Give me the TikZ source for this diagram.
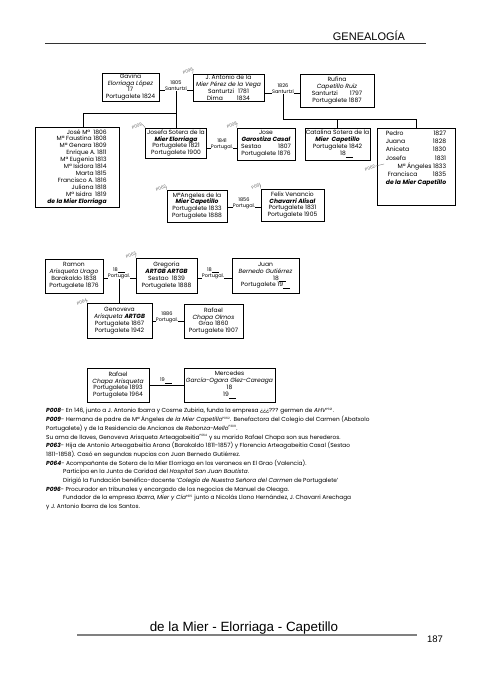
\documentclass[tikz,border=0pt]{standalone}
\usepackage{fontspec}
\setmainfont{Poppins}
\newfontfamily\headfont{Liberation Sans}
\usetikzlibrary{shadows}

\newcommand*{\pagew}{482}
\newcommand*{\pageh}{680}
\newcommand*{\blankyr}{\underline{\hspace{7pt}}}
\newcommand*{\pref}[1]{\textsuperscript{\fontsize{3}{3}\selectfont #1}}

\begin{document}
\begin{tikzpicture}
[
	x=1pt, y=-1pt,
	person/.style={draw, line width=0.6pt, fill=white, align=center, inner sep=0pt,
		font=\fontsize{6}{6.9}\selectfont,
		drop shadow={shadow xshift=0.7pt, shadow yshift=-0.7pt, opacity=0.7, fill=black!70}},
	wedding/.style={fill=white, align=center, inner sep=0.4pt, font=\fontsize{5}{5.8}\selectfont},
	link/.style={line width=0.5pt},
	plabel/.style={font=\fontsize{4.3}{4.5}\selectfont, text=black!60, rotate=20, inner sep=0pt},
	leader/.style={line width=0.3pt, black!60}
]

	\fill[white] (0,0) rectangle (\pagew,\pageh);
	\useasboundingbox (0,0) rectangle (\pagew,\pageh);

	% header
	\node[font=\headfont\fontsize{11}{13}\selectfont, inner sep=0pt] (head) at (369,36) {GENEALOGÍA};
	\draw[line width=0.6pt, black!80] (45,43) -- (426,43);

	% J. Antonio and his two wives
	\node[person, minimum width=57, minimum height=28] (gavina) at (130.5,87) {Gavina\\\textit{Elorriaga López}\\17\\Portugalete 1824};
	\node[person, minimum width=71, minimum height=27] (antonio) at (228.5,87.5) {J. Antonio de la\\\textit{Mier Pérez de la Vega}\\\makebox[30pt][l]{Santurtzi}1781\\\makebox[30pt][l]{Dima}1834};
	\node[person, minimum width=74, minimum height=33] (rufina) at (337,90.5) {Rufina\\\textit{Capetillo Ruiz}\\\makebox[38pt][l]{Santurtzi}1797\\Portugalete 1887};

	\coordinate (w1805) at (176,90);
	\draw[link] (gavina.east |- w1805) -- (antonio.west |- w1805);
	\node[wedding] (m1805) at (176,86) {1805\\Santurtzi};
	\coordinate (w1826) at (283,93);
	\draw[link] (antonio.east |- w1826) -- (rufina.west |- w1826);
	\node[wedding] (m1826) at (283,89) {1826\\Santurtzi};

	% children
	\node[person, minimum width=84, minimum height=80, align=right] (joselist) at (77,167) {José Mª\ \ 1806\\Mª Faustina 1808\\Mª Genara 1809\\Enrique A. 1811\\Mª Eugenia 1813\\Mª Isidora 1814\\Marta 1815\\Francisco A. 1816\\Juliana 1818\\Mª Isidra\ \ 1819\\\textbf{\textit{de la Mier Elorriaga}}};
	\node[person, minimum width=61, minimum height=30] (josefa) at (176,143) {Josefa Sotera de la\\\textbf{\textit{Mier Elorriaga}}\\Portugalete 1821\\Portugalete 1900};
	\node[person, minimum width=58, minimum height=32] (garostiza) at (266,144) {Jose\\\textbf{\textit{Garostiza Casal}}\\\makebox[37pt][l]{Sestao}1807\\Portugalete 1876};
	\node[person, minimum width=65, minimum height=32] (catalina) at (337.5,144) {Catalina Sotera de la\\\textbf{\textit{Mier\ \ Capetillo}}\\Portugalete 1842\\\hspace*{18pt}18\blankyr};
	\node[person, minimum width=78, minimum height=77, font=\fontsize{6.1}{8.2}\selectfont] (pedrolist) at (416,166.5) {\begin{tabular}{@{}l@{\hspace{6pt}}r@{}}Pedro & 1827\\Juana & 1828\\Aniceta & 1830\\Josefa & 1831\\\multicolumn{2}{@{}r@{}}{Mª Ángeles 1833}\\\hspace*{2pt}Francisca & 1835\\\multicolumn{2}{@{}r@{}}{\textbf{\textit{de la Mier Capetillo}}}\\[16pt]\end{tabular}};

	\coordinate (kids1) at (83,113);
	\draw[link] (m1805.south) -- (josefa.north);
	\draw[link] (m1805.south |- kids1) -- (kids1) -- (kids1 |- joselist.north);
	\coordinate (kids2) at (283,119);
	\draw[link] (m1826.south) -- (kids2) -| (catalina.north);
	\draw[link] (kids2) -| (pedrolist.north);

	\draw[link] (josefa.east |- 0,148) -- (garostiza.west |- 0,148);
	\node[wedding] (m1841) at (222,144) {1841\\Portugal.};

	% Mª Angeles and Felix
	\node[person, minimum width=60, minimum height=32] (mangeles) at (197,206) {MªAngeles de la\\\textbf{\textit{Mier Capetillo}}\\Portugalete 1833\\Portugalete 1888};
	\node[person, minimum width=63, minimum height=32] (felix) at (292.5,205) {Felix Venancio\\\textbf{\textit{Chavarri Alisal}}\\Portugalete 1831\\Portugalete 1905};
	\draw[link] (mangeles.east |- 0,207) -- (felix.west |- 0,207);
	\node[wedding] (m1856) at (244,203) {1856\\Portugal.};

	% Arisqueta
	\node[person, minimum width=58, minimum height=34] (ramon) at (74,276) {Ramon\\\textit{Arisqueta Urago}\\Barakaldo 1838\\Portugalete 1876};
	\node[person, minimum width=61, minimum height=35] (gregoria) at (166.5,275.5) {Gregoria\\\textbf{\textit{ARTGB ARTGB}}\\Sestao\ \ 1839\\Portugalete 1888};
	\node[person, minimum width=67, minimum height=35] (juan) at (265.5,275.5) {Juan\\\textit{Bernedo Gutiérrez}\\\hspace*{28pt}18\blankyr\\Portugalete 19\blankyr};
	\draw[link] (ramon.east |- 0,278) -- (gregoria.west |- 0,278);
	\node[wedding] (m18a) at (119,273) {18\blankyr\\Portugal.};
	\draw[link] (gregoria.east |- 0,278) -- (juan.west |- 0,278);
	\node[wedding] (m18b) at (213,273) {18\blankyr\\Portugal.};

	\node[person, minimum width=65, minimum height=35] (genoveva) at (119.5,320.5) {Genoveva\\\textit{Arisqueta \textbf{ARTGB}}\\Portugalete 1867\\Portugalete 1942};
	\node[person, minimum width=59, minimum height=34] (rafael) at (213.5,321) {Rafael\\\textit{Chapa Olmos}\\Grao 1860\\Portugalete 1907};
	\draw[link] (m18a.south) -- (m18a.south |- genoveva.north);
	\draw[link] (genoveva.east |- 0,321) -- (rafael.west |- 0,321);
	\node[wedding] (m1886) at (167,317) {1886\\Portugal.};

	% Chapa
	\node[person, minimum width=62, minimum height=34] (rafaelch) at (118,385) {Rafael\\\textit{Chapa Arisqueta}\\Portugalete 1893\\Portugalete 1964};
	\node[person, minimum width=91, minimum height=34] (mercedes) at (229.5,385) {Mercedes\\\textit{García-Ogara Glez-Careaga}\\18\\19\blankyr};
	\draw[link] (rafaelch.east |- 0,385) -- (mercedes.west |- 0,385);
	\node[wedding, fill=none, anchor=south] (m19) at (166,384) {19\blankyr};

	% file numbers
	\node[plabel] (p096) at (188,71) {P096};
	\draw[leader] (p096.east) -- (antonio.north west);
	\node[plabel] (p009) at (137,126) {P009};
	\draw[leader] (p009.east) -- (josefa.north west);
	\node[plabel] (p008) at (232,125) {P008};
	\draw[leader] (p008.east) -- (garostiza.north west);
	\node[plabel] (p062a) at (161,188) {P062};
	\draw[leader] (p062a.east) -- (mangeles.north west);
	\node[plabel] (p061) at (256,186) {P061};
	\draw[leader] (p061.east) -- (felix.north west);
	\node[plabel] (p062b) at (370,168) {P062};
	\coordinate (angrow) at (384,164);
	\draw[leader] (p062b.east) -- (angrow);
	\node[plabel] (p063) at (131,255) {P063};
	\draw[leader] (p063.east) -- (gregoria.north west);
	\node[plabel] (p064) at (82,302) {P064};
	\draw[leader] (p064.east) -- (genoveva.north west);

	% notes
	\node[anchor=north west, align=left, inner sep=0pt, font=\fontsize{5.82}{8.7}\selectfont] (notes) at (46,408) {%
\textbf{\textit{P008}}- En 146, junto a J. Antonio Ibarra y Cosme Zubiria, funda la empresa ¿¿¿??? germen de \textit{AHV}\pref{P321}.\\
\textbf{\textit{P009}}- Hermana de padre de Mª Ángeles \textit{de la Mier Capetillo}\pref{P062}. Benefactora del Colegio del Carmen (Abatxolo\\
Portugalete) y de la Residencia de Ancianos de \textit{Rebonza-Mello}\pref{P309}.\\
Su ama de llaves, Genoveva Arisqueta Arteagabeitia\pref{P064} y su marido Rafael Chapa son sus herederos.\\
\textbf{\textit{P063}}- Hija de Antonio Arteagabeitia Arana (Barakaldo 1811-1857) y Florencia Arteagabeitia Casal (Sestao\\
1811-1858). Casó en segundas nupcias con Juan Bernedo Gutiérrez.\\
\textbf{\textit{P064}}- Acompañante de Sotera de la Mier Elorriaga en los veraneos en El Grao (Valencia).\\
\hspace*{17pt}Participa en la Junta de Caridad del \textit{Hospital San Juan Bautista}.\\
\hspace*{17pt}Dirigió la Fundación benéfico-docente `\textit{Colegio de Nuestra Señora del Carmen} de Portugalete'\\
\textbf{\textit{P096}}- Procurador en tribunales y encargado de los negocios de Manuel de Oleaga.\\
\hspace*{17pt}Fundador de la empresa \textit{Ibarra, Mier y Cía}\pref{P315} junto a Nicolás Llano Hernández, J. Chavarri Arechaga\\
y J. Antonio Ibarra de los Santos.};

	% footer
	\node[font=\headfont\fontsize{13.4}{15}\selectfont, inner sep=0pt, anchor=base] (foot) at (244,631) {de la Mier - Elorriaga - Capetillo};
	\draw[line width=1.3pt, black!50] (77,635) -- (417,635);
	\node[font=\headfont\fontsize{9.5}{11}\selectfont, inner sep=0pt] (pageno) at (435,639) {187};

\end{tikzpicture}
\end{document}
